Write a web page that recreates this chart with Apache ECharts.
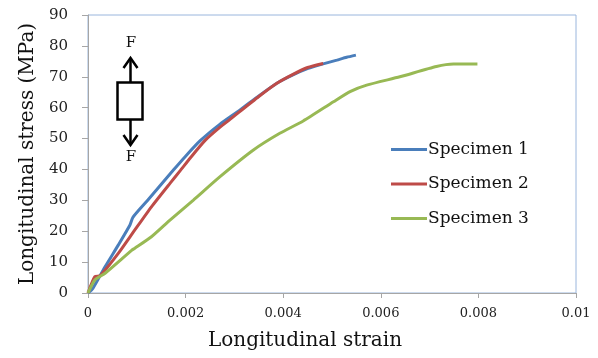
<!DOCTYPE html>
<html>
<head>
<meta charset="utf-8">
<script src="https://cdn.jsdelivr.net/npm/echarts@6/dist/echarts.min.js"></script>
<style>
html, body { margin: 0; padding: 0; background: #fff; }
#chart { width: 598px; height: 358px; }
</style>
</head>
<body>
<div id="chart"></div>
<script>
// values
const seriesNames = ['Specimen 1', 'Specimen 2', 'Specimen 3'];

const strain1 = [0, 0.0001, 0.00035, 0.00062, 0.00086, 0.00092, 0.00121, 0.00175, 0.002, 0.0023, 0.0027, 0.00311, 0.0035, 0.00387, 0.0042, 0.00451, 0.0048, 0.0051, 0.0053, 0.00549];
const stress1 = [0, 1.5, 8.5, 15.5, 22, 24.5, 29.8, 39.8, 44.3, 49.3, 54.6, 59.2, 63.8, 67.9, 70.6, 72.7, 74.1, 75.4, 76.3, 77];

const strain2 = [0, 0.00014, 0.00025, 0.00062, 0.00096, 0.0013, 0.00168, 0.00189, 0.0021, 0.0024, 0.0027, 0.00291, 0.0035, 0.00387, 0.0042, 0.0045, 0.00482];
const stress2 = [0, 5.3, 5.6, 12.8, 20.4, 27.9, 35.5, 39.6, 43.8, 49.4, 53.6, 56.2, 63.6, 67.9, 70.8, 73, 74.3];

const strain3 = [0, 0.00014, 0.00035, 0.0009, 0.00096, 0.0013, 0.00168, 0.00216, 0.0027, 0.00339, 0.00393, 0.00441, 0.00503, 0.00537, 0.00571, 0.00639, 0.00714, 0.00749, 0.00798];
const stress3 = [0, 4.2, 6.4, 13.9, 14.5, 18.2, 23.6, 30.1, 37.6, 46.3, 51.7, 55.7, 61.9, 65.2, 67.3, 70.0, 73.3, 74.1, 74.1];

const xTicks = ['0', '0.002', '0.004', '0.006', '0.008', '0.01'];
const colors = ['#4a7ebb', '#be4b48', '#98b954'];

const pairs = (xs, ys) => xs.map((x, i) => [x, ys[i]]);
const allData = [pairs(strain1, stress1), pairs(strain2, stress2), pairs(strain3, stress3)];

const serif = '"DejaVu Serif", "Liberation Serif", serif';
const chart = echarts.init(document.getElementById('chart'), null, { renderer: 'canvas' });

chart.setOption({
  animation: false,
  backgroundColor: '#fff',
  textStyle: { fontFamily: serif, color: '#222' },
  grid: {
    left: 88, right: 22, top: 15, bottom: 65,
    show: true, borderColor: '#9ab6dd', borderWidth: 1, backgroundColor: 'transparent'
  },
  legend: {
    orient: 'vertical',
    left: 391, top: 139.5, padding: 0,
    icon: 'rect', itemWidth: 36, itemHeight: 3, itemGap: 14.5,
    textStyle: { fontFamily: serif, fontSize: 17, color: '#111', lineHeight: 20, padding: [0, 0, 0, -4] },
    data: seriesNames
  },
  xAxis: {
    type: 'value', min: 0, max: 0.01, interval: 0.002,
    name: 'Longitudinal strain', nameLocation: 'middle', nameGap: 38,
    nameTextStyle: { fontFamily: serif, fontSize: 20, color: '#111', padding: [0, 54, 0, 0] },
    axisLine: { show: true, lineStyle: { color: '#a6a6a6', width: 1 } },
    axisTick: { show: true, length: 5, lineStyle: { color: '#a6a6a6' } },
    axisLabel: { fontFamily: serif, fontSize: 13, color: '#222', margin: 14,
      formatter: (v) => xTicks[Math.round(v / 0.002)] },
    splitLine: { show: false }
  },
  yAxis: {
    type: 'value', min: 0, max: 90, interval: 10,
    name: 'Longitudinal stress (MPa)', nameLocation: 'middle', nameGap: 48,
    nameTextStyle: { fontFamily: serif, fontSize: 20, color: '#111' },
    axisLine: { show: true, lineStyle: { color: '#a6a6a6', width: 1 } },
    axisTick: { show: true, length: 6, lineStyle: { color: '#a6a6a6' } },
    axisLabel: { fontFamily: serif, fontSize: 15, color: '#222', margin: 20 },
    splitLine: { show: false }
  },
  series: seriesNames.map((name, i) => ({
    name, type: 'line', data: allData[i], showSymbol: false, smooth: 0.2,
    lineStyle: { color: colors[i], width: 3 }, itemStyle: { color: colors[i] }
  })),
  graphic: [
    { type: 'rect', shape: { x: 117.5, y: 82.5, width: 25, height: 37 },
      style: { fill: '#fff', stroke: '#000', lineWidth: 2.5 } },
    { type: 'line', shape: { x1: 130.5, y1: 82, x2: 130.5, y2: 59 }, style: { stroke: '#000', lineWidth: 2.5 } },
    { type: 'polyline', shape: { points: [[123.5, 68], [130.5, 58], [137.5, 68]] }, style: { stroke: '#000', lineWidth: 2.5, fill: null } },
    { type: 'line', shape: { x1: 130.5, y1: 120, x2: 130.5, y2: 144 }, style: { stroke: '#000', lineWidth: 2.5 } },
    { type: 'polyline', shape: { points: [[123.5, 135], [130.5, 145], [137.5, 135]] }, style: { stroke: '#000', lineWidth: 2.5, fill: null } },
    { type: 'text', x: 131, y: 43, style: { text: 'F', fontFamily: serif, fontSize: 15, fill: '#111', align: 'center', verticalAlign: 'middle' } },
    { type: 'text', x: 131, y: 157, style: { text: 'F', fontFamily: serif, fontSize: 15, fill: '#111', align: 'center', verticalAlign: 'middle' } }
  ]
});
</script>
</body>
</html>
